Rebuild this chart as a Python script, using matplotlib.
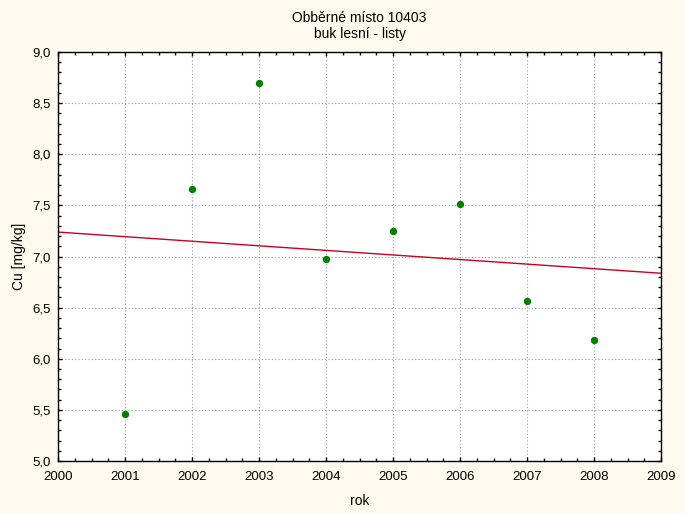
import numpy as np
import matplotlib
matplotlib.use("Agg")
import matplotlib.pyplot as plt
from matplotlib.ticker import MultipleLocator, FuncFormatter

# ─── Data ─────────────────────────────────────────────────────────────────────
years = [2001, 2002, 2003, 2004, 2005, 2006, 2007, 2008]
cu = [5.46, 7.66, 8.70, 6.98, 7.25, 7.51, 6.56, 6.18]

title = "Obběrné místo 10403\nbuk lesní - listy"

# ─── Chart ────────────────────────────────────────────────────────────────────
plt.rcParams["font.family"] = ["Liberation Sans", "DejaVu Sans"]

fig = plt.figure(figsize=(6.85, 5.14), dpi=100)
fig.patch.set_facecolor("#FDF9EE")
ax = fig.add_axes([58 / 685, 1 - 461 / 514, 603 / 685, 409 / 514])
ax.set_facecolor("white")

# linear fit line across full x range
slope, icpt = np.polyfit(years, cu, 1)
xl = np.array([2000, 2009])
ax.plot(xl, slope * xl + icpt, color="#C8001E", linewidth=1, zorder=2)

ax.scatter(years, cu, s=28, color="#007F00", zorder=3, linewidths=0)

ax.set_xlim(2000, 2009)
ax.set_ylim(5.0, 9.0)
ax.xaxis.set_major_locator(MultipleLocator(1))
ax.xaxis.set_minor_locator(MultipleLocator(0.25))
ax.yaxis.set_major_locator(MultipleLocator(0.5))
ax.yaxis.set_minor_locator(MultipleLocator(0.1))
ax.xaxis.set_major_formatter(FuncFormatter(lambda v, p: f"{v:.0f}"))
ax.yaxis.set_major_formatter(FuncFormatter(lambda v, p: f"{v:.1f}".replace(".", ",")))

ax.tick_params(which="both", direction="in", top=True, right=True,
               colors="black", labelsize=9.5)
ax.tick_params(which="major", length=3, width=1)
ax.tick_params(which="minor", length=2, width=1)
ax.tick_params(axis="x", which="major", pad=7)
ax.tick_params(axis="y", which="major", pad=5)
ax.grid(True, which="major", linestyle=(0, (1, 2)), color="#A0A0A0", linewidth=0.8)
for sp in ax.spines.values():
    sp.set_color("black")
    sp.set_linewidth(1)

ax.set_xlabel("rok", fontsize=10, labelpad=8)
ax.set_ylabel("Cu [mg/kg]", fontsize=10, labelpad=5)
ax.set_title(title, fontsize=10, pad=10)

fig.savefig("out.png", dpi=100, facecolor=fig.get_facecolor())
